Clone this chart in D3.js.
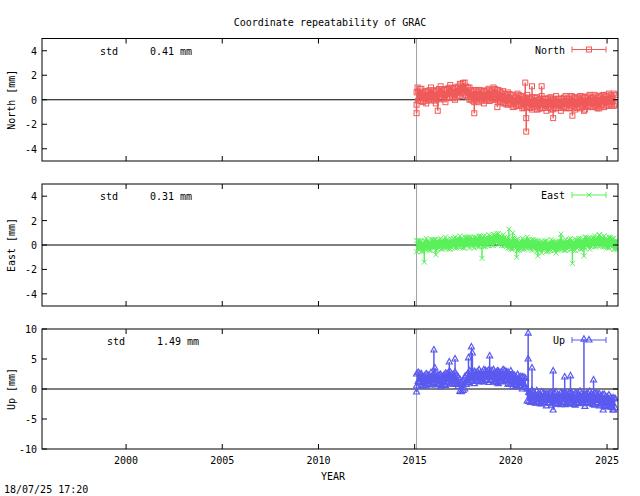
<!DOCTYPE html>
<html><head><meta charset="utf-8">
<script src="https://cdn.jsdelivr.net/npm/d3@7"></script>
<style>body{margin:0;background:#fff}text{font-family:"DejaVu Sans Mono",monospace;font-size:10px}</style>
</head><body><svg id="c" width="640" height="496"></svg>
<script>
const startYear = 2015.1, step = 1/12;
const northVals = [0.1,0.3,0.5,0.4,0.2,0.3,0.2,0.3,0.4,0.5,0.4,0.3,0.2,0.4,0.5,0.6,0.5,0.4,0.3,0.5,0.6,0.7,0.6,0.5,0.5,0.6,0.7,0.8,0.9,1.0,0.9,0.7,0.6,0.5,0.4,0.3,0.3,0.4,0.3,0.3,0.4,0.3,0.2,0.3,0.4,0.4,0.3,0.4,0.5,0.5,0.4,0.3,0.3,0.2,0.2,0.1,0.0,0.1,0.1,0.0,-0.1,-0.2,-0.1,0.0,0.0,-0.1,-0.2,-0.3,-0.2,-0.1,-0.2,-0.3,-0.3,-0.2,-0.2,-0.3,-0.4,-0.3,-0.2,-0.3,-0.3,-0.4,-0.3,-0.2,-0.3,-0.4,-0.3,-0.2,-0.3,-0.3,-0.4,-0.3,-0.2,-0.2,-0.3,-0.3,-0.2,-0.1,-0.2,-0.3,-0.3,-0.2,-0.2,-0.1,-0.2,-0.3,-0.2,-0.1,-0.1,-0.2,-0.2,-0.1,-0.1,-0.2,-0.2,-0.1,0.0,-0.1,-0.1,-0.1,0.0,0.0,-0.1,0.0,0.0];
const northSpread = 0.5;
const northOut = [[2015.1,-1.1],[2015.15,1.0],[2016.2,-0.9],[2018.1,-1.1],[2019.3,-0.6],[2020.8,-2.6],[2020.75,1.4],[2020.8,-1.5],[2021.1,1.1],[2022.2,-1.5],[2023.2,-1.3],[2021.6,1.1],[2023.8,-0.9],[2024.5,-0.7]];
const eastVals = [-0.1,0.0,0.0,-0.1,-0.2,0.0,0.1,0.0,-0.1,0.0,0.1,0.1,0.0,0.0,0.1,0.1,0.0,0.1,0.2,0.1,0.0,0.1,0.1,0.2,0.2,0.1,0.2,0.3,0.2,0.1,0.2,0.3,0.3,0.2,0.3,0.2,0.2,0.3,0.2,0.3,0.4,0.3,0.3,0.2,0.3,0.4,0.4,0.3,0.4,0.5,0.6,0.5,0.4,0.3,0.4,0.3,0.2,0.2,0.1,0.0,0.1,0.2,0.1,0.0,-0.1,0.0,0.1,0.0,0.1,0.2,0.1,0.0,0.0,0.1,0.0,-0.1,0.0,-0.1,-0.2,-0.1,0.0,-0.1,-0.2,-0.1,0.0,0.0,-0.1,-0.2,-0.1,0.0,0.1,0.0,-0.1,0.0,0.0,0.1,0.1,0.0,-0.1,0.0,0.1,0.2,0.1,0.0,0.1,0.2,0.3,0.2,0.1,0.2,0.3,0.3,0.2,0.3,0.4,0.3,0.2,0.3,0.2,0.1,0.2,0.3,0.2,0.1,0.0,0.0];
const eastSpread = 0.45;
const eastOut = [[2015.5,-1.4],[2016.1,-0.8],[2018.5,-1.1],[2019.9,1.3],[2020.1,1.0],[2020.3,-1.0],[2021.4,-0.9],[2022.6,0.9],[2023.2,-1.5],[2023.8,-0.9],[2024.6,0.8]];
const upVals = [1.5,2.0,1.8,1.5,1.3,1.4,1.5,1.6,1.5,1.7,1.6,1.8,1.7,1.5,1.6,1.4,1.3,1.5,1.6,1.8,2.0,1.8,1.7,1.6,1.8,1.5,1.2,
 0.6,0.3,0.5,1.0,1.5,
 1.8,2.0,2.1,2.0,1.9,2.0,2.1,2.2,2.0,2.1,2.2,2.3,2.2,2.1,2.2,2.3,2.2,2.0,1.8,1.9,2.0,2.1,2.2,2.3,2.1,1.8,1.5,1.6,1.4,1.5,1.3,1.4,1.2,1.3,1.0,1.2,1.0,
 -1.0,-1.3,-1.5,-1.2,-1.4,-1.6,-1.3,-1.5,-1.7,-1.5,-1.4,-1.6,-1.8,-1.6,-1.5,-1.7,-1.6,-1.4,-1.5,-1.7,-1.8,-1.6,-1.5,-1.4,-1.6,-1.7,-1.5,-1.4,-1.6,-1.8,-1.7,-1.5,-1.6,-1.4,-1.5,-1.7,-1.9,-1.6,-1.5,-1.4,-1.6,-1.8,-1.7,-1.5,-1.6,-1.8,-1.9,-1.7,-1.9,-2.0,-2.1,-2.0,-2.2,-2.3,-2.5,-2.4];
const upSpread = 1.0;
const upOut = [[2015.1,-0.5],[2016.0,6.5],[2016.05,3.5],[2016.8,4.5],[2017.1,5.0],[2017.8,5.2],[2017.95,7.0],[2018.0,6.0],[2018.9,5.5],[2019.3,3.0],[2020.0,3.0],[2020.9,9.3],[2020.9,5.0],[2021.1,3.5],[2022.2,3.0],[2022.2,-3.5],[2022.8,2.0],[2023.1,2.2],[2023.8,8.3],[2024.3,1.5],[2024.8,-3.5],[2025.3,-3.5]];
const xTicks = [2000,2005,2010,2015,2020,2025];

const svg = d3.select("#c");
const x = d3.scaleLinear().domain([1995.63,2025.57]).range([42,618]);
svg.append("text").attr("x",330).attr("y",26).attr("text-anchor","middle").text("Coordinate repeatability of GRAC");
svg.append("text").attr("x",4).attr("y",493).text("18/07/25 17:20");
svg.append("text").attr("x",333).attr("y",480).attr("text-anchor","middle").text("YEAR");

const panels = [
 {name:"North",lab:"North [mm]",vals:northVals,spr:northSpread,out:northOut,col:"#f05a5a",dom:[-5,5],ticks:[-4,-2,0,2,4],top:38.5,bot:161,std:"0.41 mm",mark:"sq",sx:100},
 {name:"East",lab:"East [mm]",vals:eastVals,spr:eastSpread,out:eastOut,col:"#5af05a",dom:[-5,5],ticks:[-4,-2,0,2,4],top:184,bot:306,std:"0.31 mm",mark:"x",sx:100},
 {name:"Up",lab:"Up [mm]",vals:upVals,spr:upSpread,out:upOut,col:"#5a5af0",dom:[-10,10],ticks:[-10,-5,0,5,10],top:329,bot:449,std:"1.49 mm",mark:"tri",sx:107}
];
function marker(g,cx,cy,p){
  if(p.mark==="sq") g.append("rect").attr("x",cx-2.5).attr("y",cy-2.5).attr("width",5).attr("height",5).attr("fill","none").attr("stroke",p.col);
  else if(p.mark==="x") g.append("path").attr("d",`M${cx-2.5},${cy-2.5}L${cx+2.5},${cy+2.5}M${cx-2.5},${cy+2.5}L${cx+2.5},${cy-2.5}`).attr("stroke",p.col);
  else g.append("path").attr("d",`M${cx},${cy-3.5}L${cx+3},${cy+2}L${cx-3},${cy+2}Z`).attr("fill","none").attr("stroke",p.col).attr("stroke-width",1.2);
}
panels.forEach((p,pi)=>{
  const y = d3.scaleLinear().domain(p.dom).range([p.bot,p.top]);
  const g = svg.append("g");
  g.append("line").attr("x1",42).attr("x2",618).attr("y1",y(0)).attr("y2",y(0)).attr("stroke","#000");
  g.append("line").attr("x1",x(2015.1)).attr("x2",x(2015.1)).attr("y1",p.top).attr("y2",p.bot).attr("stroke","#a0a0a0");
  const pts = p.vals.map((v,i)=>[startYear+i*step,v]);
  const clip = "clip"+pi;
  svg.append("clipPath").attr("id",clip).append("rect").attr("x",42).attr("y",p.top).attr("width",576).attr("height",p.bot-p.top);
  const dg = g.append("g").attr("clip-path",`url(#${clip})`);
  dg.append("path").datum(pts).attr("fill",p.col)
    .attr("d",d3.area().x(d=>x(d[0])).y0(d=>y(d[1]-p.spr*0.8)).y1(d=>y(d[1]+p.spr*0.8)));
  p.out.forEach(o=>{
    const near = pts.reduce((a,b)=>Math.abs(b[0]-o[0])<Math.abs(a[0]-o[0])?b:a);
    dg.append("line").attr("x1",x(o[0])).attr("x2",x(o[0])).attr("y1",y(near[1])).attr("y2",y(o[1])).attr("stroke",p.col).attr("stroke-width",1.5);
    marker(dg,x(o[0]),y(o[1]),p);
  });
  pts.forEach((d,i)=>{
    const k = (i%3===0)?1:0.75;
    marker(dg,x(d[0]),y(d[1]+p.spr*k),p); marker(dg,x(d[0]),y(d[1]-p.spr*k),p);
  });
  g.append("rect").attr("x",42).attr("y",p.top).attr("width",576).attr("height",p.bot-p.top).attr("fill","none").attr("stroke","#000");
  p.ticks.forEach(t=>{
    g.append("line").attr("x1",42).attr("x2",47).attr("y1",y(t)).attr("y2",y(t)).attr("stroke","#000");
    g.append("line").attr("x1",613).attr("x2",618).attr("y1",y(t)).attr("y2",y(t)).attr("stroke","#000");
    g.append("text").attr("x",37).attr("y",y(t)+4).attr("text-anchor","end").text(t);
  });
  xTicks.forEach(t=>{
    g.append("line").attr("x1",x(t)).attr("x2",x(t)).attr("y1",p.bot).attr("y2",p.bot-5).attr("stroke","#000");
    g.append("line").attr("x1",x(t)).attr("x2",x(t)).attr("y1",p.top).attr("y2",p.top+5).attr("stroke","#000");
    if(pi===2) g.append("text").attr("x",x(t)).attr("y",p.bot+15).attr("text-anchor","middle").text(t);
  });
  const my=(p.top+p.bot)/2;
  g.append("text").attr("transform",`translate(15,${my}) rotate(-90)`).attr("text-anchor","middle").text(p.lab);
  g.append("text").attr("x",p.sx).attr("y",p.top+16).text("std");
  g.append("text").attr("x",p.sx+50).attr("y",p.top+16).text(p.std);
  const ly=p.top+11;
  g.append("text").attr("x",565).attr("y",ly+4).attr("text-anchor","end").text(p.name);
  g.append("line").attr("x1",572).attr("x2",606).attr("y1",ly).attr("y2",ly).attr("stroke",p.col);
  [572,606].forEach(cx=>g.append("line").attr("x1",cx).attr("x2",cx).attr("y1",ly-3).attr("y2",ly+3).attr("stroke",p.col));
  marker(g,589,ly,p);
});
</script></body></html>
